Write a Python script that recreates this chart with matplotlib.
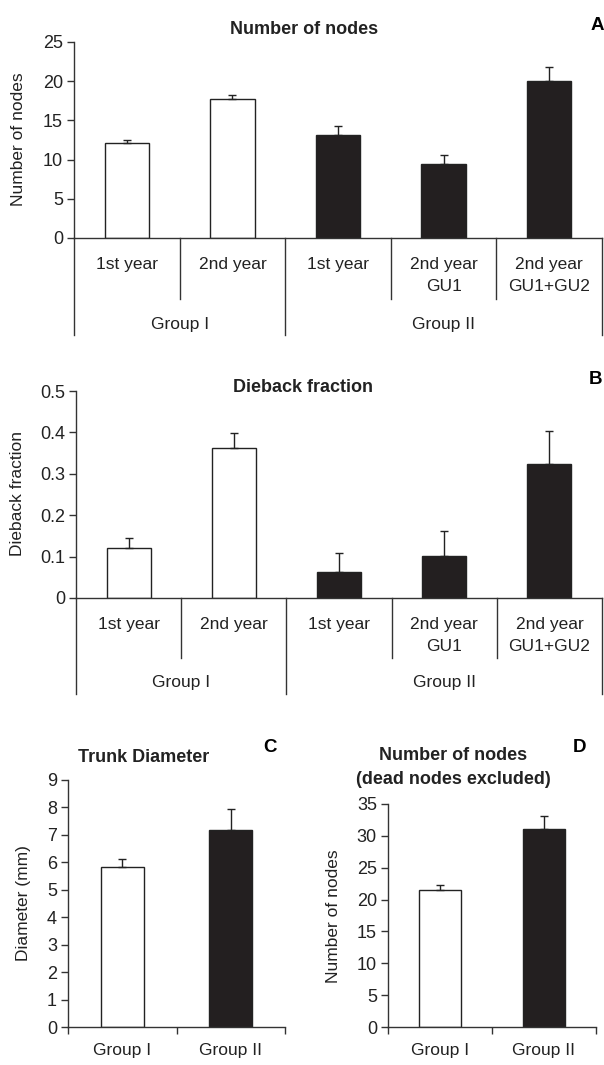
import matplotlib
matplotlib.use("Agg")
import matplotlib.pyplot as plt

plt.rcParams['font.family'] = ['Liberation Sans', 'DejaVu Sans']

# panel A / B data
cat_labels = ['1st year', '2nd year', '1st year', '2nd year\nGU1', '2nd year\nGU1+GU2']
group_labels = ['Group I', 'Group II']
group_bounds = [0, 2, 5]
bar_colors = ['white', 'white', '#231f20', '#231f20', '#231f20']

nodes = [12.1, 17.75, 13.2, 9.45, 20.0]
nodes_err = [0.45, 0.5, 1.05, 1.15, 1.8]

dieback = [0.121, 0.362, 0.063, 0.102, 0.323]
dieback_err = [0.025, 0.036, 0.045, 0.060, 0.081]

# panel C / D data
cd_labels = ['Group I', 'Group II']
cd_colors = ['white', '#231f20']
diameter = [5.83, 7.17]
diameter_err = [0.30, 0.78]
nodes_alive = [21.45, 31.06]
nodes_alive_err = [0.9, 2.1]

W, H = 604, 1065
fig = plt.figure(figsize=(W / 100, H / 100), dpi=100)
LC = '#333333'
TICK_FS = 13
LAB_FS = 12.5
TITLE_FS = 13


def box(l, t, r, b):
    return [l / W, 1 - b / H, (r - l) / W, (b - t) / H]


def style(ax):
    for s in ['top', 'right']:
        ax.spines[s].set_visible(False)
    for s in ['left', 'bottom']:
        ax.spines[s].set_color(LC)
        ax.spines[s].set_linewidth(1)
    ax.tick_params(axis='y', direction='out', length=5, width=1, color=LC,
                   labelsize=TICK_FS, pad=3, labelcolor='#222222')


def bars(ax, x, vals, errs, colors, width):
    ax.bar(x, vals, width=width, color=colors, edgecolor='#222222', linewidth=1, zorder=2)
    ax.errorbar(x, vals, yerr=[[0] * len(vals), errs], fmt='none', ecolor='#222222',
                elinewidth=1, capsize=3, capthick=1, zorder=3)


def category_panel(rect, vals, errs, ylim, yticks, yfmt, px_h, sep_px, grp_px, lab_px, grp_lab_px):
    ax = fig.add_axes(box(*rect))
    style(ax)
    x = [i + 0.5 for i in range(len(vals))]
    bars(ax, x, vals, errs, bar_colors, 0.42)
    ax.set_xlim(0, len(vals))
    ax.set_ylim(*ylim)
    ax.set_yticks(yticks)
    ax.set_yticklabels([yfmt(v) for v in yticks])
    ax.set_xticks([])
    tr = ax.get_xaxis_transform()
    for xs in range(1, len(vals)):
        if xs in group_bounds:
            continue
        ax.plot([xs, xs], [0, -sep_px / px_h], color=LC, lw=1, transform=tr, clip_on=False)
    for xs in group_bounds:
        ax.plot([xs, xs], [0, -grp_px / px_h], color=LC, lw=1, transform=tr, clip_on=False)
    for xi, lab in zip(x, cat_labels):
        ax.text(xi, -lab_px / px_h, lab, transform=tr, ha='center', va='top',
                fontsize=LAB_FS, linespacing=1.62, color='#222222')
    for g, lab in enumerate(group_labels):
        xc = (group_bounds[g] + group_bounds[g + 1]) / 2
        ax.text(xc, -grp_lab_px / px_h, lab, transform=tr, ha='center', va='center',
                fontsize=LAB_FS, color='#222222')
    return ax


# Panel A
category_panel((74, 42, 602, 238), nodes, nodes_err, (0, 25), [0, 5, 10, 15, 20, 25],
               lambda v: f'{v:d}', 196, 61, 97, 19, 86)
fig.text(304 / W, 1 - 29 / H, 'Number of nodes', ha='center', va='center',
         fontsize=TITLE_FS, fontweight='bold', color='#222222')
fig.text(597 / W, 1 - 25 / H, 'A', ha='center', va='center', fontsize=13.5, fontweight='bold')
fig.text(19 / W, 1 - 139 / H, 'Number of nodes', rotation=90, ha='center', va='center',
         fontsize=LAB_FS, color='#222222')

# Panel B
category_panel((76, 391, 602, 598), dieback, dieback_err, (0, 0.5), [0, 0.1, 0.2, 0.3, 0.4, 0.5],
               lambda v: '0' if v == 0 else f'{v:.1f}', 207, 60, 96, 19, 85)
fig.text(303 / W, 1 - 387 / H, 'Dieback fraction', ha='center', va='center',
         fontsize=TITLE_FS, fontweight='bold', color='#222222')
fig.text(596 / W, 1 - 379 / H, 'B', ha='center', va='center', fontsize=13.5, fontweight='bold')
fig.text(18 / W, 1 - 494 / H, 'Dieback fraction', rotation=90, ha='center', va='center',
         fontsize=LAB_FS, color='#222222')


def group_panel(rect, vals, errs, ylim, yticks):
    ax = fig.add_axes(box(*rect))
    style(ax)
    x = [0.5, 1.5]
    bars(ax, x, vals, errs, cd_colors, 0.4)
    ax.set_xlim(0, 2)
    ax.set_ylim(*ylim)
    ax.set_yticks(yticks)
    ax.set_xticks([0, 1, 2])
    ax.set_xticklabels([])
    ax.tick_params(axis='x', direction='out', length=5, width=1, color=LC)
    tr = ax.get_xaxis_transform()
    h = rect[3] - rect[1]
    for xi, lab in zip(x, cd_labels):
        ax.text(xi, -24 / h, lab, transform=tr, ha='center', va='center',
                fontsize=LAB_FS, color='#222222')
    return ax


# Panel C
group_panel((68, 780, 285, 1027), diameter, diameter_err, (0, 9), list(range(10)))
fig.text(144 / W, 1 - 757 / H, 'Trunk Diameter', ha='center', va='center',
         fontsize=TITLE_FS, fontweight='bold', color='#222222')
fig.text(270 / W, 1 - 748 / H, 'C', ha='center', va='center', fontsize=13.5, fontweight='bold')
fig.text(24 / W, 1 - 903 / H, 'Diameter (mm)', rotation=90, ha='center', va='center',
         fontsize=LAB_FS, color='#222222')

# Panel D
group_panel((388, 804, 596, 1027), nodes_alive, nodes_alive_err, (0, 35), list(range(0, 36, 5)))
fig.text(453 / W, 1 - 755 / H, 'Number of nodes', ha='center', va='center',
         fontsize=TITLE_FS, fontweight='bold', color='#222222')
fig.text(453 / W, 1 - 779 / H, '(dead nodes excluded)', ha='center', va='center',
         fontsize=TITLE_FS, fontweight='bold', color='#222222')
fig.text(580 / W, 1 - 747 / H, 'D', ha='center', va='center', fontsize=13.5, fontweight='bold')
fig.text(333 / W, 1 - 916 / H, 'Number of nodes', rotation=90, ha='center', va='center',
         fontsize=LAB_FS, color='#222222')

fig.savefig('out.png', dpi=100)
